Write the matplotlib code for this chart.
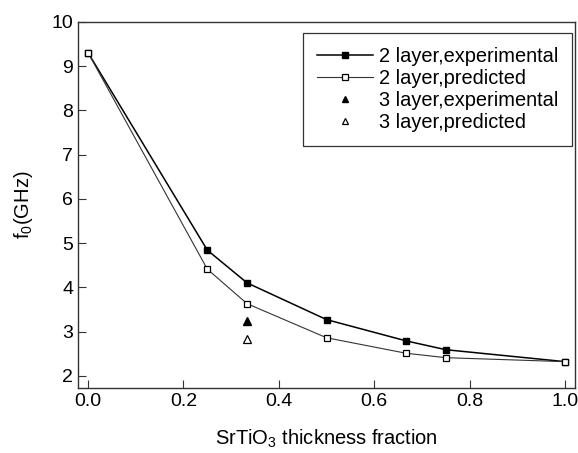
import matplotlib
matplotlib.use("Agg")
import matplotlib.pyplot as plt

plt.rcParams['font.family'] = ['Liberation Sans', 'DejaVu Sans']
plt.rcParams['mathtext.fontset'] = 'custom'
plt.rcParams['mathtext.rm'] = 'Liberation Sans'

# SrTiO3 thickness fraction
frac = [0.0, 0.25, 1 / 3, 0.5, 2 / 3, 0.75, 1.0]
# 2 layer resonators
f0_2_exp = [9.3, 4.84, 4.10, 3.27, 2.79, 2.59, 2.32]
f0_2_pred = [9.3, 4.41, 3.63, 2.86, 2.51, 2.41, 2.32]
# 3 layer resonator
frac_3 = [1 / 3]
f0_3_exp = [3.24]
f0_3_pred = [2.84]

fig, ax = plt.subplots(figsize=(5.78, 4.53), dpi=100)
fig.subplots_adjust(left=0.135, right=0.995, top=0.952, bottom=0.143)

ax.plot(frac, f0_2_exp, '-s', color='black', lw=1.1, ms=5,
        mfc='black', mec='black', label='2 layer,experimental')
ax.plot(frac, f0_2_pred, '-s', color='#333333', lw=0.8, ms=5,
        mfc='white', mec='black', mew=0.9, label='2 layer,predicted')
ax.plot(frac_3, f0_3_exp, '^', color='black', ms=5.5, ls='none',
        label='3 layer,experimental')
ax.plot(frac_3, f0_3_pred, '^', ms=5.5, ls='none', mfc='white', mec='black',
        mew=0.9, label='3 layer,predicted')

ax.set_xlim(-0.021, 1.021)
ax.set_ylim(1.72, 10)
ax.set_xticks([0.0, 0.2, 0.4, 0.6, 0.8, 1.0])
ax.set_yticks(range(2, 11))
ax.tick_params(direction='in', length=6, labelsize=14, top=False, right=False,
               color='#333333')
for s in ax.spines.values():
    s.set_linewidth(1.0)
    s.set_color('#333333')

ax.set_xlabel('SrTiO$_3$ thickness fraction', fontsize=14.5, labelpad=13)
ax.set_ylabel('f$_0$(GHz)', fontsize=14.5, labelpad=12)

leg = ax.legend(loc='upper right', bbox_to_anchor=(0.994, 0.970), fontsize=14.4,
                frameon=True, fancybox=False, edgecolor='black',
                handlelength=2.8, handletextpad=0.3, borderpad=0.7,
                labelspacing=0.15, markerscale=0.85, borderaxespad=0.0)
leg.get_frame().set_linewidth(0.9)

fig.savefig('out.png', dpi=100)
